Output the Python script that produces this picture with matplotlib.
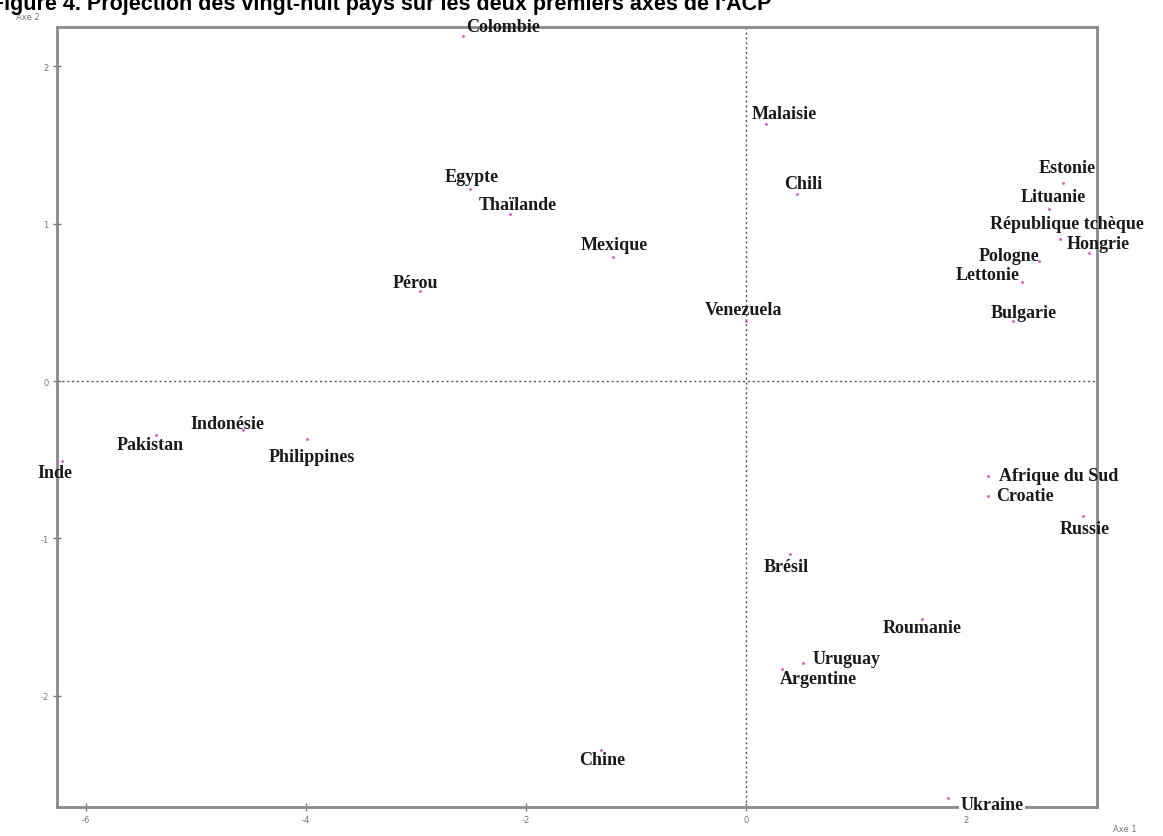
import matplotlib
matplotlib.use("Agg")
import matplotlib.pyplot as plt

# coordonnées des pays sur les axes 1 et 2 de l'ACP
pays = ["Colombie", "Malaisie", "Estonie", "Chili", "Egypte", "Thaïlande",
        "Lituanie", "République tchèque", "Hongrie", "Mexique", "Pologne",
        "Lettonie", "Pérou", "Venezuela", "Bulgarie", "Indonésie", "Pakistan",
        "Inde", "Philippines", "Afrique du Sud", "Croatie", "Russie", "Brésil",
        "Roumanie", "Uruguay", "Argentine", "Chine", "Ukraine"]
axe1 = [-2.57, 0.18, 2.88, 0.46, -2.51, -2.15,
        2.75, 2.85, 3.12, -1.21, 2.66,
        2.51, -2.96, 0.0, 2.43, -4.57, -5.36,
        -6.22, -3.99, 2.20, 2.20, 3.06, 0.40,
        1.60, 0.52, 0.33, -1.32, 1.84]
axe2 = [2.19, 1.63, 1.26, 1.19, 1.22, 1.06,
        1.09, 0.90, 0.81, 0.79, 0.76,
        0.63, 0.57, 0.38, 0.38, -0.31, -0.34,
        -0.51, -0.37, -0.60, -0.73, -0.86, -1.10,
        -1.51, -1.79, -1.83, -2.34, -2.65]

# decalage des etiquettes (pixels) pour qu'elles ne se chevauchent pas
decalage = {
    "Colombie": (40, 10), "Malaisie": (18, 11), "Estonie": (4, 15),
    "Chili": (7, 10), "Egypte": (2, 12), "Thaïlande": (8, 10),
    "Lituanie": (5, 13), "République tchèque": (7, 16), "Hongrie": (9, 10),
    "Mexique": (1, 12), "Pologne": (-30, 6), "Lettonie": (-35, 7),
    "Pérou": (-5, 9), "Venezuela": (-3, 12), "Bulgarie": (10, 9),
    "Indonésie": (-16, 6), "Pakistan": (-6, -10), "Inde": (-7, -11),
    "Philippines": (5, -17), "Afrique du Sud": (71, 0), "Croatie": (37, 0),
    "Russie": (2, -12), "Brésil": (-4, -12), "Roumanie": (0, -9),
    "Uruguay": (43, 4), "Argentine": (36, -9), "Chine": (1, -10),
    "Ukraine": (44, -6),
}

xticks = [-6, -4, -2, 0, 2]
yticks = [-2, -1, 0, 1, 2]

fig = plt.figure(figsize=(11.63, 8.37), dpi=100)
ax = fig.add_axes([57 / 1163, 1 - 808 / 837, 1040 / 1163, 780 / 837])
ax.set_xlim(-6.264, 3.19)
ax.set_ylim(-2.705, 2.248)

ax.axhline(0, color="#555555", lw=1, ls=(0, (1.5, 2)), zorder=1)
ax.axvline(0, color="#555555", lw=1, ls=(0, (1.5, 2)), zorder=1)

ax.scatter(axe1, axe2, s=4, color="#d455b8", marker="o", zorder=3, linewidths=0)

for nom, x, y in zip(pays, axe1, axe2):
    dx, dy = decalage[nom]
    bbox = None
    if nom == "Ukraine":
        bbox = dict(facecolor="white", edgecolor="none", pad=1)
    ax.annotate(nom, (x, y), xytext=(dx, dy), textcoords="offset pixels",
                ha="center", va="center", fontsize=13, fontweight="bold",
                family="Liberation Serif", color="#1a1a1a", bbox=bbox,
                zorder=4, annotation_clip=False)

for s in ax.spines.values():
    s.set_color("#8a8a8a")
    s.set_linewidth(2)

ax.set_xticks(xticks)
ax.set_yticks(yticks)
ax.set_xticklabels([str(v) for v in xticks])
ax.set_yticklabels([str(v) for v in yticks])
ax.tick_params(direction="inout", length=6, width=1, colors="#777777",
               labelsize=6, pad=3)

fig.text(28 / 1163, 1 - 18 / 837, "Axe 2", fontsize=6, color="#777777",
         ha="center", va="center")
fig.text(1125 / 1163, 1 - 830 / 837, "Axe 1", fontsize=6, color="#777777",
         ha="center", va="center")

fig.text(-0.008, 1 - 10 / 837,
         "Figure 4. Projection des vingt-huit pays sur les deux premiers axes de l'ACP",
         fontsize=15.5, fontweight="bold", family="Liberation Sans",
         ha="left", va="baseline")

fig.savefig("out.png", dpi=100, facecolor="white")
